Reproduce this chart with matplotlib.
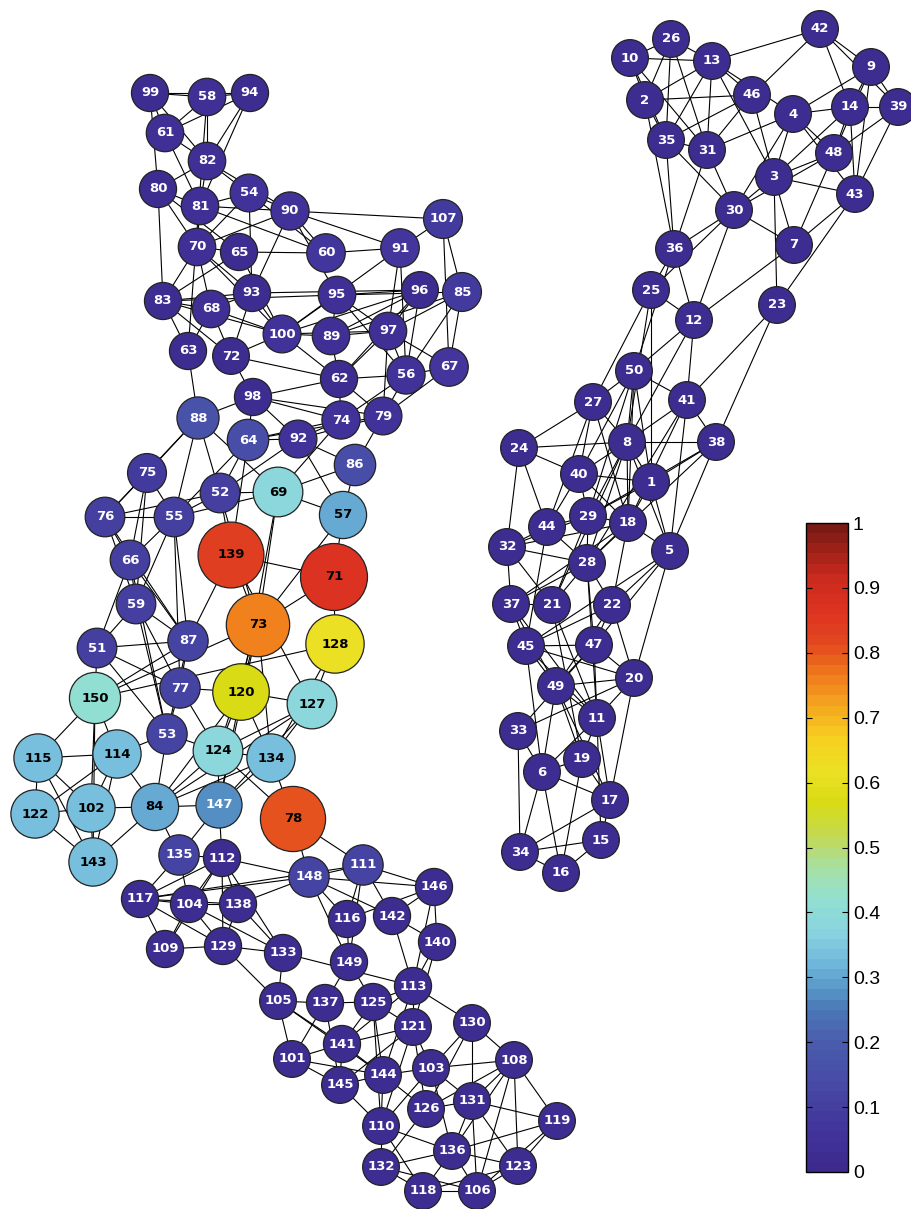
"""Network graph with node colour/size by value, plus a colorbar."""

import matplotlib
matplotlib.use("Agg")
import matplotlib.pyplot as plt
from matplotlib.collections import LineCollection
from matplotlib.colors import LinearSegmentedColormap, Normalize
from matplotlib.cm import ScalarMappable
from matplotlib.patches import Circle

# node ids and their values (0..1)
node_ids = [
    99, 58, 94, 61, 82, 80, 54, 81, 90, 107, 70, 65, 60, 91, 83, 68, 93, 95, 96, 85,
    100, 89, 97, 63, 72, 62, 56, 67, 98, 88, 74, 79, 64, 92, 86, 75, 52, 69, 57, 76,
    55, 139, 71, 66, 59, 73, 128, 87, 51, 150, 77, 120, 127, 53, 124, 134, 115, 114,
    122, 102, 84, 147, 78, 143, 135, 112, 111, 148, 146, 117, 104, 138, 116, 142, 140,
    109, 129, 133, 149, 113, 105, 137, 125, 121, 130, 141, 101, 144, 103, 108, 145,
    126, 131, 119, 110, 136, 132, 123, 118, 106,
    42, 26, 10, 13, 9, 46, 2, 14, 39, 4, 35, 31, 48, 3, 30, 43, 36, 7, 25, 23, 12,
    50, 41, 27, 8, 38, 24, 40, 1, 29, 18, 44, 32, 5, 28, 37, 21, 22, 45, 47, 20, 49,
    11, 33, 19, 6, 17, 15, 34, 16,
]
node_values = [
    0.03, 0.04, 0.03, 0.04, 0.04, 0.03, 0.05, 0.04, 0.06, 0.08, 0.04, 0.03, 0.07, 0.07, 0.03, 0.04, 0.03, 0.04, 0.02, 0.08,
    0.05, 0.04, 0.04, 0.03, 0.02, 0.03, 0.06, 0.07, 0.03, 0.17, 0.06, 0.05, 0.15, 0.05, 0.15, 0.08, 0.10, 0.38, 0.31, 0.10,
    0.10, 0.83, 0.86, 0.10, 0.10, 0.76, 0.62, 0.12, 0.10, 0.42, 0.12, 0.57, 0.38, 0.12, 0.38, 0.34, 0.34, 0.34,
    0.34, 0.34, 0.31, 0.28, 0.81, 0.34, 0.12, 0.03, 0.12, 0.12, 0.03, 0.03, 0.03, 0.03, 0.03, 0.03, 0.03,
    0.03, 0.03, 0.03, 0.03, 0.03, 0.02, 0.03, 0.03, 0.02, 0.02, 0.03, 0.02, 0.02, 0.02, 0.02, 0.02,
    0.02, 0.02, 0.02, 0.02, 0.02, 0.02, 0.02, 0.02, 0.02,
    0.02, 0.02, 0.02, 0.02, 0.02, 0.02, 0.02, 0.02, 0.02, 0.02, 0.02, 0.02, 0.02, 0.02, 0.02, 0.02, 0.02, 0.02, 0.02, 0.02, 0.02,
    0.02, 0.02, 0.02, 0.02, 0.02, 0.02, 0.02, 0.02, 0.02, 0.02, 0.02, 0.02, 0.02, 0.02, 0.02, 0.02, 0.02, 0.02, 0.02, 0.02, 0.02,
    0.02, 0.02, 0.02, 0.02, 0.02, 0.02, 0.02, 0.02,
]

# layout (pixel coordinates of the drawn graph)
pos = {
    99: (150, 93), 58: (207, 97), 94: (250, 93), 61: (165, 133), 82: (207, 161),
    80: (158, 189), 54: (249, 193), 81: (200, 206), 90: (290, 211), 107: (443, 219),
    70: (197, 247), 65: (239, 252), 60: (326, 253), 91: (400, 248), 83: (163, 301),
    68: (211, 309), 93: (252, 293), 95: (337, 295), 96: (420, 290), 85: (462, 292),
    100: (282, 334), 89: (331, 336), 97: (388, 331), 63: (188, 351), 72: (231, 356),
    62: (339, 379), 56: (406, 375), 67: (449, 367), 98: (253, 397), 88: (198, 418),
    74: (341, 420), 79: (383, 416), 64: (248, 440), 92: (298, 439), 86: (355, 465),
    75: (147, 473), 52: (220, 493), 69: (278, 492), 57: (343, 515), 76: (105, 517),
    55: (174, 517), 139: (231, 555), 71: (334, 577), 66: (130, 560), 59: (136, 604),
    73: (258, 625), 128: (335, 644), 87: (188, 641), 51: (97, 648), 150: (95, 698),
    77: (180, 688), 120: (241, 692), 127: (312, 704), 53: (167, 734), 124: (218, 751),
    134: (271, 758), 115: (38, 758), 114: (117, 754), 122: (35, 814), 102: (91, 808),
    84: (155, 807), 147: (219, 805), 78: (293, 819), 143: (93, 862), 135: (179, 855),
    112: (222, 858), 111: (363, 865), 148: (309, 877), 146: (434, 887), 117: (140, 899),
    104: (189, 904), 138: (238, 904), 116: (347, 919), 142: (392, 916), 140: (437, 942),
    109: (165, 949), 129: (223, 946), 133: (283, 953), 149: (349, 962), 113: (413, 986),
    105: (278, 1001), 137: (325, 1003), 125: (373, 1002), 121: (413, 1027), 130: (472, 1023),
    141: (342, 1044), 101: (292, 1059), 144: (383, 1075), 103: (431, 1068), 108: (514, 1060),
    145: (340, 1085), 126: (426, 1109), 131: (472, 1101), 119: (557, 1121), 110: (381, 1126),
    136: (452, 1151), 132: (381, 1167), 123: (518, 1166), 118: (423, 1191), 106: (477, 1191),
    42: (820, 29), 26: (671, 39), 10: (630, 58), 13: (712, 61), 9: (871, 67),
    46: (752, 95), 2: (645, 100), 14: (850, 107), 39: (898, 107), 4: (793, 114),
    35: (666, 140), 31: (707, 150), 48: (834, 153), 3: (774, 177), 30: (734, 210),
    43: (855, 194), 36: (674, 249), 7: (794, 245), 25: (651, 290), 23: (777, 305),
    12: (694, 320), 50: (634, 371), 41: (687, 400), 27: (593, 402), 8: (627, 442),
    38: (716, 442), 24: (519, 448), 40: (579, 474), 1: (651, 482), 29: (588, 516),
    18: (628, 523), 44: (547, 527), 32: (507, 547), 5: (670, 551), 28: (587, 563),
    37: (511, 604), 21: (552, 605), 22: (612, 605), 45: (526, 646), 47: (594, 645),
    20: (634, 678), 49: (556, 686), 11: (597, 718), 33: (518, 731), 19: (582, 759),
    6: (542, 772), 17: (610, 800), 15: (601, 840), 34: (520, 852), 16: (561, 873),
}

edges = [
    # upper-left cluster
    (99, 58), (99, 94), (99, 61), (99, 82), (99, 80), (58, 94), (58, 61), (58, 82), (58, 63),
    (94, 61), (94, 82), (94, 81), (61, 82), (61, 81), (82, 80), (82, 81), (82, 90), (82, 60),
    (80, 81), (80, 83), (80, 70), (80, 65), (81, 54), (81, 90), (81, 60), (81, 70),
    (54, 90), (54, 70), (54, 93), (90, 107), (90, 60), (90, 91), (90, 93), (90, 70), (90, 95),
    (107, 91), (107, 85), (107, 67), (70, 65), (70, 83), (70, 68), (70, 93), (70, 100),
    (65, 60), (65, 83), (65, 100), (60, 91), (91, 100), (91, 97), (91, 56),
    (83, 93), (83, 95), (93, 96), (83, 68), (83, 100), (83, 63), (83, 72),
    (68, 93), (68, 100), (68, 63), (68, 72), (93, 100), (93, 72),
    (95, 96), (95, 85), (95, 100), (95, 89), (95, 97), (95, 56),
    (96, 89), (96, 97), (96, 100), (96, 62), (96, 56), (85, 97), (85, 89), (85, 56), (85, 67),
    (100, 89), (100, 62), (100, 97), (89, 97), (89, 62), (97, 62), (97, 56), (97, 67), (97, 79),
    (62, 56), (62, 72), (62, 98), (62, 74), (62, 79), (56, 67), (56, 79), (56, 74), (67, 79),
    (63, 88), (72, 98), (72, 100),
    # middle band
    (98, 88), (98, 64), (98, 74), (98, 79), (98, 92),
    (88, 75), (88, 55), (88, 73), (88, 69), (88, 76),
    (64, 92), (64, 74), (64, 79), (64, 52), (64, 139), (64, 55),
    (92, 74), (92, 79), (92, 86), (92, 57), (92, 52), (74, 69), (79, 86), (86, 69), (86, 57),
    (75, 76), (75, 55), (75, 66), (75, 59), (52, 55), (52, 69), (52, 76), (52, 139),
    (69, 57), (69, 55), (69, 73), (69, 120), (57, 71), (57, 73),
    (76, 55), (76, 66), (76, 59), (76, 87), (55, 66), (55, 87), (55, 77), (55, 59),
    (139, 71), (139, 87), (139, 73), (139, 127), (71, 128), (71, 73),
    (66, 59), (66, 51), (66, 87), (66, 53), (59, 51), (59, 87), (59, 77), (59, 53),
    (73, 150), (73, 120), (73, 134), (73, 124), (73, 147), (128, 150), (128, 127), (128, 134),
    (87, 51), (87, 77), (87, 53), (87, 150), (51, 150), (51, 77), (51, 53),
    (150, 115), (150, 114), (150, 143), (150, 102), (77, 53), (77, 120), (77, 124),
    (120, 127), (120, 124), (120, 84), (120, 147), (120, 134),
    (127, 124), (127, 134), (127, 84), (127, 147), (53, 124), (53, 114), (53, 84),
    (124, 134), (124, 84), (124, 147), (124, 78), (134, 84), (134, 147), (134, 78),
    (115, 114), (115, 122), (115, 102), (115, 143), (114, 102), (114, 84), (114, 143), (114, 122),
    (122, 102), (122, 143), (102, 84), (102, 143), (84, 147), (84, 143), (84, 135),
    (147, 112), (147, 135), (78, 148), (78, 111),
    # lower cluster
    (135, 112), (135, 117), (135, 104),
    (112, 148), (112, 117), (112, 104), (112, 138), (112, 109), (112, 133), (112, 129),
    (148, 111), (148, 146), (148, 117), (148, 138), (148, 116), (148, 142), (148, 149),
    (111, 146), (111, 142), (111, 116), (111, 149), (111, 117),
    (146, 142), (146, 140), (146, 116), (146, 113),
    (117, 104), (117, 138), (117, 109), (117, 129), (104, 138), (104, 129), (104, 133), (104, 109),
    (138, 129), (138, 133), (116, 149), (142, 140), (142, 113), (140, 113), (140, 121),
    (109, 129), (129, 133), (129, 105), (133, 105), (133, 113),
    (149, 137), (149, 125), (113, 125), (113, 121), (113, 130), (113, 141), (113, 144),
    (105, 137), (105, 101), (105, 144), (105, 141), (137, 125), (137, 101), (137, 145),
    (125, 121), (125, 141), (125, 144), (125, 110),
    (121, 141), (121, 103), (121, 145), (121, 110), (121, 126),
    (130, 108), (130, 103), (130, 131), (130, 126),
    (141, 101), (141, 145), (141, 144), (101, 145), (101, 144),
    (144, 145), (144, 103), (144, 110), (144, 126),
    (103, 108), (103, 131), (103, 136), (103, 110),
    (108, 131), (108, 119), (108, 123), (108, 106), (108, 136), (108, 126),
    (145, 110), (126, 131), (126, 132), (131, 119), (131, 136), (131, 106), (131, 123),
    (119, 136), (119, 123), (119, 106), (110, 132), (110, 136), (110, 118),
    (136, 132), (136, 118), (136, 123), (136, 106), (132, 118), (132, 106),
    (123, 106), (123, 118), (118, 106),
    # right cluster
    (42, 13), (42, 46), (42, 14), (42, 9), (42, 39),
    (26, 10), (26, 13), (26, 2), (26, 35), (26, 31), (10, 13), (10, 2), (10, 35), (10, 31),
    (13, 2), (13, 35), (13, 31), (13, 46), (13, 4), (13, 3),
    (9, 4), (9, 14), (9, 39), (9, 48), (9, 43), (46, 2), (46, 35), (46, 31), (46, 3),
    (2, 35), (2, 36), (14, 39), (14, 4), (14, 3), (14, 48), (14, 43), (39, 48), (39, 43),
    (4, 31), (4, 3), (4, 30), (4, 48), (4, 43), (35, 31), (35, 36), (35, 30), (31, 30), (31, 36),
    (48, 3), (48, 30), (48, 7), (3, 30), (3, 43), (3, 7), (3, 23),
    (30, 7), (30, 36), (30, 25), (30, 12), (43, 7), (43, 23),
    (36, 25), (36, 12), (36, 50), (7, 12),
    (25, 12), (25, 27), (25, 8), (25, 1), (23, 41), (23, 38), (12, 50), (12, 41), (12, 8),
    (50, 27), (50, 41), (50, 8), (50, 40), (50, 29), (50, 18), (50, 1),
    (41, 8), (41, 38), (41, 5), (41, 18), (41, 28), (27, 24), (27, 8), (27, 40), (27, 44), (27, 18),
    (8, 24), (8, 38), (8, 40), (8, 1), (8, 29), (8, 18), (8, 28), (8, 5), (8, 21),
    (38, 1), (38, 5), (38, 29), (38, 28), (24, 40), (24, 44), (24, 32),
    (40, 1), (40, 29), (40, 44), (40, 18), (1, 29), (1, 18), (1, 5),
    (29, 18), (29, 44), (29, 32), (29, 28), (29, 21), (18, 5), (18, 32), (18, 28), (18, 22), (18, 37),
    (44, 32), (44, 28), (44, 45), (32, 28), (32, 37), (32, 21),
    (5, 22), (5, 20), (5, 45), (5, 47), (28, 22), (28, 21), (28, 47), (28, 37), (28, 11),
    (37, 21), (37, 45), (37, 49), (37, 11), (21, 11), (21, 19),
    (22, 45), (22, 47), (22, 20), (22, 49), (45, 47), (45, 20), (45, 6), (45, 49), (45, 11),
    (47, 20), (47, 49), (47, 11), (47, 33), (20, 49), (20, 33), (20, 11), (20, 17),
    (49, 11), (49, 6), (49, 19), (49, 17), (11, 19), (11, 6), (11, 17), (11, 15),
    (33, 6), (33, 34), (19, 6), (19, 17), (19, 16), (6, 34), (6, 16), (6, 17),
    (17, 15), (17, 34), (15, 34), (15, 16), (34, 16),
]

cbar_ticks = [0, 0.1, 0.2, 0.3, 0.4, 0.5, 0.6, 0.7, 0.8, 0.9, 1]
cbar_labels = ["0", "0.1", "0.2", "0.3", "0.4", "0.5", "0.6", "0.7", "0.8", "0.9", "1"]

cmap = LinearSegmentedColormap.from_list(
    "netmap",
    [(0.00, "#3d2a8c"), (0.05, "#41329a"), (0.10, "#4540a0"), (0.15, "#4850a8"),
     (0.20, "#4a5eae"), (0.25, "#4a7ab8"), (0.28, "#5a98c8"), (0.32, "#70b8dc"),
     (0.37, "#8ad4e0"), (0.42, "#92e0d0"), (0.47, "#a8e0a0"), (0.52, "#c4d850"),
     (0.57, "#d8dc14"), (0.62, "#ece024"), (0.67, "#f8d020"), (0.72, "#f5a820"),
     (0.77, "#ef7a1c"), (0.82, "#e2481e"), (0.87, "#dc3322"), (0.92, "#cc2a1e"),
     (1.00, "#7a1a14")],
    N=64,
)
norm = Normalize(0, 1)

W, H = 911, 1209
fig = plt.figure(figsize=(W / 100, H / 100), dpi=100)
ax = fig.add_axes([0, 0, 1, 1])
ax.set_xlim(0, W)
ax.set_ylim(H, 0)
ax.axis("off")

segs = [[pos[a], pos[b]] for a, b in edges]
ax.add_collection(LineCollection(segs, colors="black", linewidths=0.8, zorder=1))

for nid, v in zip(node_ids, node_values):
    x, y = pos[nid]
    r = 18 + 18 * v
    ax.add_patch(Circle((x, y), r, facecolor=cmap(norm(v)), edgecolor="#222222",
                        linewidth=0.9, zorder=2))
    ax.text(x, y, str(nid), ha="center", va="center", fontsize=9.5, fontweight="bold",
            color="black" if v >= 0.30 else "white", zorder=3)

cax = fig.add_axes([806 / W, (H - 1172) / H, 42 / W, 649 / H])
cb = fig.colorbar(ScalarMappable(norm=norm, cmap=cmap), cax=cax)
cb.set_ticks(cbar_ticks)
cb.set_ticklabels(cbar_labels)
cax.tick_params(direction="in", left=True, right=True, length=4, labelsize=14,
                labelfontfamily="Liberation Sans")
cb.outline.set_linewidth(1)

fig.savefig("out.png", dpi=100)
